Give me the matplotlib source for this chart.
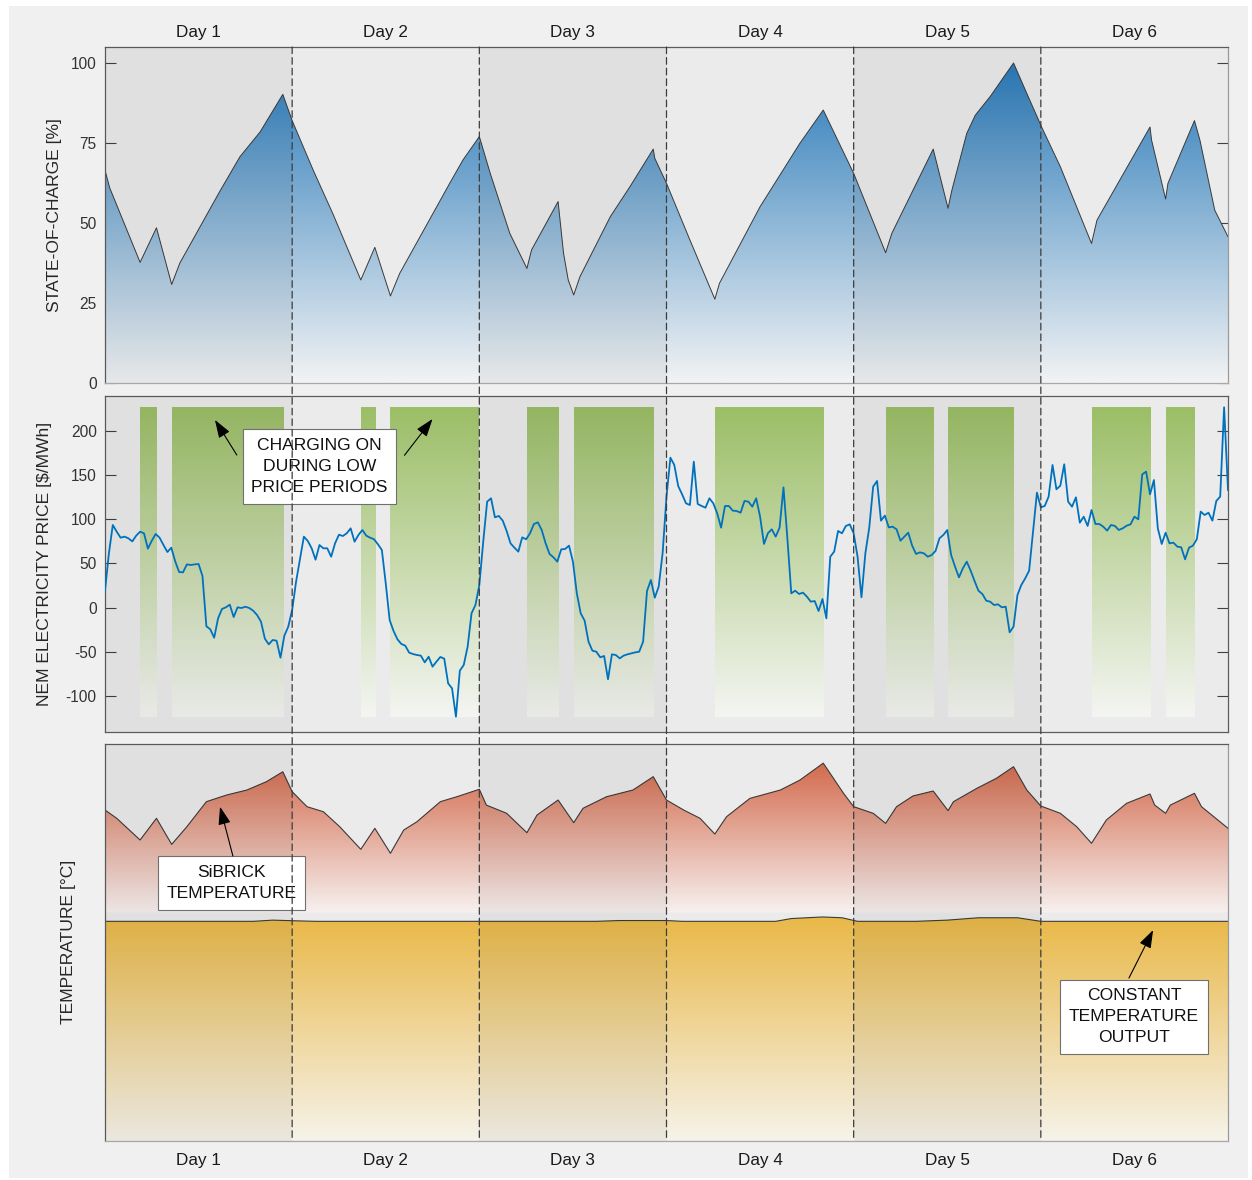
import numpy as np
import matplotlib
matplotlib.use("Agg")
import matplotlib.pyplot as plt
from matplotlib.patches import Rectangle, ConnectionPatch
from matplotlib.colors import to_rgb

plt.rcParams["font.family"] = ["Liberation Sans", "DejaVu Sans"]
plt.rcParams["axes.unicode_minus"] = False

# ---------------------------------------------------------------- data
day_labels = ["Day 1", "Day 2", "Day 3", "Day 4", "Day 5", "Day 6"]
hours_per_day = 24
n_days = 6

# battery state of charge [%] at turning points (hour of the week)
soc_hours = [0.0, 0.6, 4.5, 6.6, 8.55, 9.6, 14.7, 17.3, 19.9, 22.8,
             24.0, 26.7, 29.2, 32.8, 34.6, 36.6, 37.8, 44.2, 45.9, 48.0,
             49.4, 51.9, 54.1, 54.7, 58.1, 58.8, 59.4, 60.1, 60.9, 64.8,
             67.3, 70.3, 70.5, 72.0, 75.0, 78.2, 78.8, 84.0, 89.1, 92.1,
             96.0, 100.1, 100.9, 106.2, 108.1, 108.6, 110.5, 111.6, 113.5, 116.5,
             118.2, 120.1, 122.5, 126.5, 127.2, 134.0, 134.2, 136.0, 136.3, 139.7,
             140.4, 142.3, 144.0]
soc = [66.5, 61, 37.7, 48.5, 30.8, 37.5, 59.8, 70.7, 78.5, 90.2,
       82, 66.5, 53, 32.2, 42.4, 27.2, 34.3, 62.4, 69.7, 77,
       65.5, 46.8, 35.8, 41.6, 56.7, 40.5, 32.2, 27.5, 33.2, 52,
       61.3, 73.1, 70.2, 62.4, 44.7, 26.2, 31.2, 55.1, 74.9, 85.3,
       65.5, 40.7, 46.8, 73.1, 54.6, 60.3, 78, 83.7, 89.5, 100,
       90.5, 80, 67.6, 43.6, 50.9, 80, 75.9, 57.5, 62.4, 82,
       75.9, 54, 45.7]

# NEM spot price [$/MWh], 30-minute intervals
price_interval = 0.5
price = [
    19.2, 61.5, 93.6, 86, 79.2, 80.4, 78.5, 75, 81.5, 86,
    84.2, 66.8, 75.8, 83.4, 79.2, 70.9, 63, 67.9, 52.5, 40.4,
    40, 49, 48.3, 49, 49.4, 35.8, -21.1, -24.5, -34, -12,
    -1.5, 0.4, 3.4, -10.6, 0.4, -0.4, 1.1, -0.4, -3.4, -8.3,
    -15.8, -35.1, -41.5, -36.6, -37.4, -56.6, -31.7, -21.5, -2.6, 29.4,
    54.7, 80.4, 75.5, 67.2, 54.3, 70.9, 67.2, 67.2, 57.7, 72.8,
    82.6, 81.1, 84.2, 89.8, 74.7, 82.3, 87.9, 81.5, 79.2, 77.4,
    71.7, 65.3, 27.5, -14, -26.4, -35.8, -41.1, -43, -50.9, -52.5,
    -53.6, -54.3, -61.9, -55.5, -66.8, -61.1, -55.8, -57.7, -85.7, -91.3,
    -123.4, -71.3, -64.9, -44.2, -6.4, 3.0,
    25.7, 74.7, 120, 123.8, 102.3, 103.8, 98.5, 86.8, 72.8, 67.9,
    63.4, 79.6, 77.4, 84.2, 94.7, 96.6, 87.9, 72.8, 60.8, 57,
    52.1, 66, 66.4, 70.2, 52.1, 16.2, -6.4, -14.7, -38.5, -48.7,
    -49.8, -56.2, -54.7, -81.1, -52.8, -53.6, -57.4, -54.3, -52.8, -51.7,
    -50.6, -49.8, -38.5, 18.9, 31.3, 11.3, 23.8, 61.5, 125.7, 169.8,
    161.5, 137.7, 128.3, 118.1, 116.2, 165.3, 117.4, 115.1, 113.2, 123.8,
    118.1, 106.8, 90.6, 115.1, 115.1, 109.8, 109.4, 107.5, 120.8, 120,
    114.3, 123.8, 103, 72.1, 84.2, 88.7, 80.4, 90.6, 136.2, 78.5,
    16.2, 19.2, 15.5, 17, 12.5, 6.8, 7.5, -3.8, 9.8, -12.1,
    57.7, 63.4, 86.8, 84.2, 92.5,
    94.3, 84.2, 57.7, 11.7, 61.5, 90.6, 137, 143.4, 98.5, 104.2,
    90.9, 91.7, 88.7, 75.8, 80.4, 84.9, 70.2, 60.8, 62.6, 61.5,
    57.7, 59.6, 64.2, 78.5, 82.3, 87.9, 59.6, 46.4, 34.3, 44.5,
    52.1, 41.9, 30.2, 19.2, 15.5, 7.9, 6.8, 3, 3.8, 0.4,
    1.1, -27.9, -21.5, 14.3, 25.7, 33.2, 41.9, 86, 130.2, 113.6,
    115.1, 125.7, 161.5, 134, 138.1, 162.3, 120, 114.3, 124.9, 96.2,
    103, 92.5, 110.6, 94.7, 94.7, 91.7, 87.2, 93.6, 92.5, 87.9,
    89.8, 92.8, 94.3, 103, 100, 150.9, 154, 128.3, 144.5, 89.8,
    72.1, 84.9, 72.8, 73.6, 69.1, 68.3, 54.7, 67.9, 70.2, 77.4,
    108.7, 104.9, 107.5, 98.5, 120.8, 125.7, 226.8, 133.2,
]

# charging windows (start / end hour)
charge_start = [4.5, 8.55, 32.8, 36.6, 54.1, 60.1, 78.2, 100.1, 108.1, 126.5, 136.0]
charge_end = [6.6, 22.8, 34.6, 48.0, 58.1, 70.3, 92.1, 106.2, 116.5, 134.0, 139.7]

# SiBRICK storage temperature
brick_hours = [0.0, 1.5, 4.5, 6.6, 8.55, 10.5, 13.0, 15.6, 18.2, 20.7,
               22.8, 23.7, 24.0, 25.9, 28.0, 30.1, 32.8, 34.6, 36.6, 38.3,
               40.0, 43.0, 45.1, 48.0, 48.9, 51.5, 54.1, 55.4, 58.1, 60.1,
               61.3, 64.3, 67.7, 70.3, 72.0, 74.2, 76.3, 78.2, 79.7, 82.7,
               86.6, 89.1, 92.1, 94.7, 96.0, 98.5, 100.1, 101.5, 103.6, 106.2,
               108.1, 108.8, 111.8, 114.3, 116.5, 118.2, 120.0, 122.5, 124.6, 126.5,
               128.4, 131.0, 134.0, 134.6, 136.0, 136.6, 139.7, 140.6, 144.0]
brick_temp = [833.6, 812.7, 758, 812.7, 747, 791.5, 854.6, 871.4, 884, 905,
              930, 892.4, 879.8, 842, 829.3, 791.5, 734.5, 787.5, 724.5, 783,
              804, 854.6, 867, 885.8, 846, 825.3, 776.4, 821, 858.8, 801.6,
              838, 867, 884, 917.6, 858.8, 833.6, 812.7, 773, 816.7, 863,
              884, 909, 951.7, 875.7, 842, 825.3, 800, 842, 869, 881.5,
              832, 854.6, 888.3, 913.5, 942.8, 884, 843.7, 825.3, 791.5, 749.7,
              808.4, 850.5, 874, 846, 825.3, 846, 875.7, 842, 787.5]
brick_base = 575

# delivered (output) temperature
out_hours = [0, 19.0, 21.5, 25.0, 27.0, 63.0, 66.0, 72.0, 74.0, 86.0,
             88.0, 92.0, 94.5, 96.5, 104, 108, 112, 117, 120, 144]
out_temp = [553, 553, 556, 554, 553, 553, 555, 555, 553, 553,
            560, 564, 562, 553, 553, 556, 562, 562, 553, 553]

# ---------------------------------------------------------------- helpers
W, H = 1252, 1180
fig = plt.figure(figsize=(W / 100, H / 100), dpi=100, facecolor="white")
fig.patches.append(Rectangle((9 / W, 2 / H), 1239 / W, 1172 / H,
                             transform=fig.transFigure, facecolor="#f0f0f0",
                             edgecolor="none", zorder=-10))

LEFT, WIDTH = 105 / W, 1123 / W


def add_panel(top_px, bottom_px):
    return fig.add_axes([LEFT, 1 - bottom_px / H, WIDTH, (bottom_px - top_px) / H])


def gradient_image(ax, extent, c_bottom, c_top, zorder, clip=None):
    t = np.linspace(0.0, 1.0, 256)[:, None]
    lo, hi = np.array(to_rgb(c_bottom)), np.array(to_rgb(c_top))
    rgb = lo + (hi - lo) * t
    img = np.repeat(rgb[:, None, :], 2, axis=1)
    im = ax.imshow(img, extent=extent, origin="lower", aspect="auto",
                   interpolation="bilinear", zorder=zorder)
    if clip is not None:
        im.set_clip_path(clip.get_paths()[0], transform=ax.transData)
    return im


def day_shading(ax):
    ax.set_facecolor("#ebebeb")
    for d in range(0, n_days, 2):
        ax.axvspan(d * hours_per_day, (d + 1) * hours_per_day,
                   facecolor="black", alpha=0.045, lw=0, zorder=3)


def style_spines(ax, light_bottom=False, light_right=False):
    for side, sp in ax.spines.items():
        sp.set_linewidth(0.9)
        sp.set_color("#5c5c5c")
    if light_bottom:
        ax.spines["bottom"].set_color("#a8a8a8")
    if light_right:
        ax.spines["right"].set_color("#9a9a9a")


x_end = n_days * hours_per_day
day_centers = [(d + 0.5) * hours_per_day for d in range(n_days)]
label_kw = dict(fontsize=12.6, color="#262626", rotation=90, ha="center", va="center")
tick_kw = dict(direction="in", length=8, width=0.8, color="#404040",
               labelsize=11.2, labelcolor="#333333", pad=6, left=True, right=True)
box_kw = dict(boxstyle="square,pad=0.5", facecolor="white", edgecolor="#707070", lw=0.8)
note_kw = dict(ha="center", va="center", fontsize=12.6, linespacing=1.5,
               color="#111111", bbox=box_kw, zorder=6)
arrow_kw = dict(arrowstyle="-|>,head_length=1.1,head_width=0.38", color="black",
                lw=0.8, shrinkA=0, shrinkB=0, mutation_scale=10)

# ---------------------------------------------------------------- panel 1: SOC
ax1 = add_panel(47, 383)
day_shading(ax1)
ax1.set_axisbelow(True)
soc_poly = ax1.fill_between(soc_hours, 0, soc, facecolor="none", edgecolor="none")
gradient_image(ax1, [0, x_end, 0, max(soc)], "#f2f3f4", "#2b7bba", 1, clip=soc_poly)
ax1.plot(soc_hours, soc, color="#3a3a3a", lw=0.7, zorder=2.5)
ax1.set_xlim(0, x_end)
ax1.set_ylim(0, 105)
ax1.set_yticks([0, 25, 50, 75, 100])
ax1.tick_params(axis="y", **tick_kw)
ax1.set_xticks(day_centers)
ax1.set_xticklabels(day_labels)
ax1.tick_params(axis="x", top=True, bottom=False, labeltop=True, labelbottom=False,
                length=0, pad=5, labelsize=12.3, labelcolor="#1a1a1a")
style_spines(ax1, light_bottom=True, light_right=True)
ax1.text(-0.0454, 0.5, "STATE-OF-CHARGE [%]", transform=ax1.transAxes, **label_kw)

# ---------------------------------------------------------------- panel 2: price
ax2 = add_panel(396, 731.7)
day_shading(ax2)
ax2.set_axisbelow(True)
price_hours = np.arange(len(price)) * price_interval
p_lo, p_hi = min(price), max(price)
for s, e in zip(charge_start, charge_end):
    gradient_image(ax2, [s, e, p_lo, p_hi], "#f4f5f2", "#9bbe66", 1)
ax2.plot(price_hours, price, color="#0072bd", lw=1.3, zorder=4)
ax2.set_xlim(0, x_end)
ax2.set_ylim(-140.4, 239.6)
ax2.set_yticks([-100, -50, 0, 50, 100, 150, 200])
ax2.tick_params(axis="y", **tick_kw)
ax2.set_xticks([])
style_spines(ax2)
ax2.text(-0.0537, 0.5, "NEM ELECTRICITY PRICE [$/MWh]", transform=ax2.transAxes, **label_kw)

ax2.text(27.5, 160, "CHARGING ON\nDURING LOW\nPRICE PERIODS", **note_kw)
ax2.annotate("", xy=(14.1, 212.5), xytext=(16.9, 172.8), arrowprops=arrow_kw, zorder=6)
ax2.annotate("", xy=(42.0, 213.6), xytext=(38.4, 172.5), arrowprops=arrow_kw, zorder=6)

# ---------------------------------------------------------------- panel 3: temperature
ax3 = add_panel(744, 1140.7)
day_shading(ax3)
ax3.set_axisbelow(True)
brick_poly = ax3.fill_between(brick_hours, brick_base, brick_temp,
                              facecolor="none", edgecolor="none")
gradient_image(ax3, [0, x_end, brick_base, 960], "#f7f1f0", "#d2684a", 1, clip=brick_poly)
ax3.plot(brick_hours, brick_temp, color="#3a3a3a", lw=0.8, zorder=2.5)
out_poly = ax3.fill_between(out_hours, 0, out_temp, facecolor="none", edgecolor="none")
gradient_image(ax3, [0, x_end, 0, max(out_temp)], "#f6f3ea", "#e9b848", 1, clip=out_poly)
ax3.plot(out_hours, out_temp, color="#3a3a3a", lw=0.8, zorder=2.5)
ax3.set_xlim(0, x_end)
ax3.set_ylim(0, 1000)
ax3.set_yticks([])
ax3.set_xticks(day_centers)
ax3.set_xticklabels(day_labels)
ax3.tick_params(axis="x", length=0, pad=8.5, labelsize=12.3, labelcolor="#1a1a1a")
style_spines(ax3, light_bottom=True, light_right=True)
ax3.text(-0.0325, 0.5, "TEMPERATURE [°C]", transform=ax3.transAxes, **label_kw)

ax3.text(16.2, 649.6, "SiBRICK\nTEMPERATURE", **note_kw)
ax3.annotate("", xy=(14.75, 842), xytext=(16.4, 717.7), arrowprops=arrow_kw, zorder=6)
ax3.text(131.95, 312.3, "CONSTANT\nTEMPERATURE\nOUTPUT", **note_kw)
ax3.annotate("", xy=(134.4, 531), xytext=(131.3, 410), arrowprops=arrow_kw, zorder=6)

# ---------------------------------------------------------------- day boundaries
for d in range(1, n_days):
    h = d * hours_per_day
    con = ConnectionPatch(xyA=(h, 105), coordsA=ax1.transData,
                          xyB=(h, 0), coordsB=ax3.transData,
                          color="#3c3c3c", lw=0.9, linestyle=(0, (5.3, 3.2)), zorder=5)
    fig.add_artist(con)

fig.savefig("out.png", dpi=100, facecolor=fig.get_facecolor())
